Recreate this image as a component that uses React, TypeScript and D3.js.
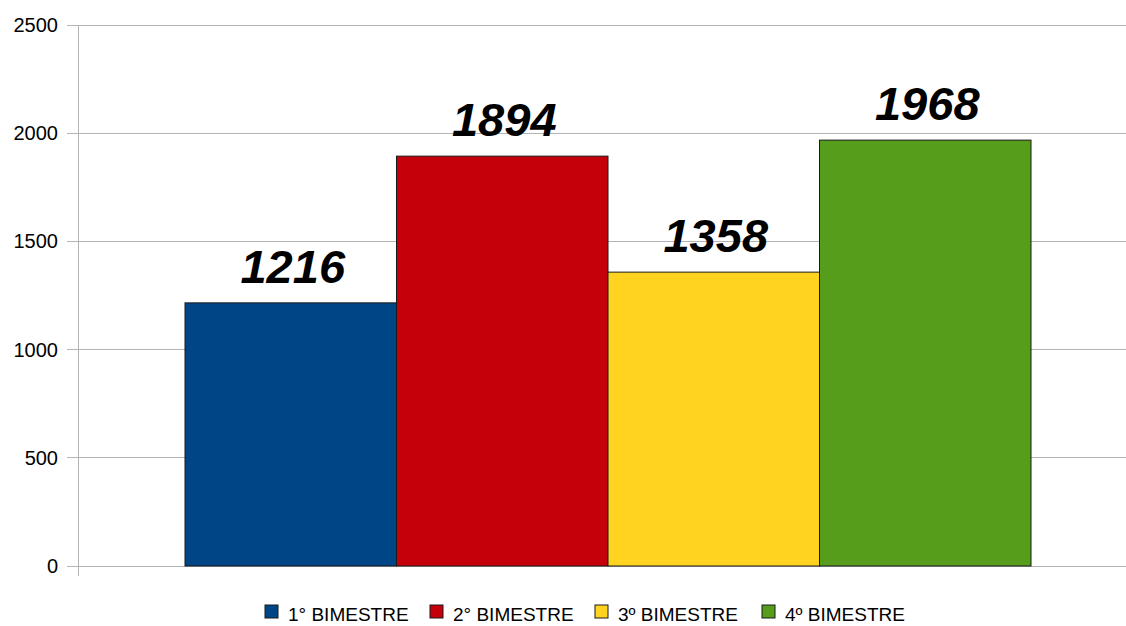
import { useEffect, useRef } from 'react'
import * as d3 from 'd3'

const series = ['1° BIMESTRE', '2° BIMESTRE', '3º BIMESTRE', '4º BIMESTRE']
const values = [1216, 1894, 1358, 1968]
const colors = ['#004586', '#c5000b', '#ffd320', '#579d1c']
const yTicks = [0, 500, 1000, 1500, 2000, 2500]

export default function App() {
  const ref = useRef<SVGSVGElement>(null)

  useEffect(() => {
    if (!ref.current) return
    const svg = d3.select(ref.current)
    svg.selectAll('*').remove()

    const left = 78
    const right = 1138
    const top = 25
    const bottom = 566
    const font = '"Liberation Sans", Arial, sans-serif'

    const y = d3.scaleLinear().domain([0, 2500]).range([bottom, top])
    // one category, four series side by side
    const x = d3.scaleBand<string>().domain(series).range([185, 1031]).padding(0)

    // gridlines
    svg.append('g')
      .selectAll('line')
      .data(yTicks)
      .enter()
      .append('line')
      .attr('x1', left - 11)
      .attr('x2', right)
      .attr('y1', d => y(d))
      .attr('y2', d => y(d))
      .attr('stroke', '#b3b3b3')
      .attr('stroke-width', 1)
      .attr('shape-rendering', 'crispEdges')

    // y axis line
    svg.append('line')
      .attr('x1', left).attr('x2', left)
      .attr('y1', top).attr('y2', bottom + 10)
      .attr('stroke', '#b3b3b3')
      .attr('shape-rendering', 'crispEdges')

    svg.append('g')
      .selectAll('text')
      .data(yTicks)
      .enter()
      .append('text')
      .attr('x', left - 20)
      .attr('y', d => y(d) + 7)
      .attr('text-anchor', 'end')
      .attr('font-family', font)
      .attr('font-size', 20)
      .attr('fill', '#000')
      .text(d => d)

    // bars
    svg.append('g')
      .selectAll('rect')
      .data(values)
      .enter()
      .append('rect')
      .attr('x', (_d, i) => x(series[i])!)
      .attr('y', d => y(d))
      .attr('width', x.bandwidth())
      .attr('height', d => bottom - y(d))
      .attr('fill', (_d, i) => colors[i])
      .attr('stroke', '#1a1a1a')
      .attr('stroke-width', 1)

    // value labels
    svg.append('g')
      .selectAll('text')
      .data(values)
      .enter()
      .append('text')
      .attr('x', (_d, i) => x(series[i])! + x.bandwidth() / 2 + 2)
      .attr('y', d => y(d) - 20)
      .attr('text-anchor', 'middle')
      .attr('font-family', font)
      .attr('font-size', 47)
      .attr('font-weight', 'bold')
      .attr('font-style', 'italic')
      .attr('fill', '#000')
      .text(d => d)

    // legend
    const legendX = [265, 430, 595, 762]
    const legend = svg.append('g')
      .selectAll('g')
      .data(series)
      .enter()
      .append('g')
      .attr('transform', (_d, i) => `translate(${legendX[i]},605)`)
    legend.append('rect')
      .attr('width', 13)
      .attr('height', 13)
      .attr('fill', (_d, i) => colors[i])
      .attr('stroke', '#1a1a1a')
      .attr('stroke-width', 1)
    legend.append('text')
      .attr('x', 23)
      .attr('y', 16)
      .attr('font-family', font)
      .attr('font-size', 19)
      .attr('fill', '#000')
      .text(d => d)
  }, [])

  return (
    <svg
      ref={ref}
      width={1126}
      height={626}
      style={{ position: 'absolute', left: 0, top: 0, background: '#fff' }}
    />
  )
}
